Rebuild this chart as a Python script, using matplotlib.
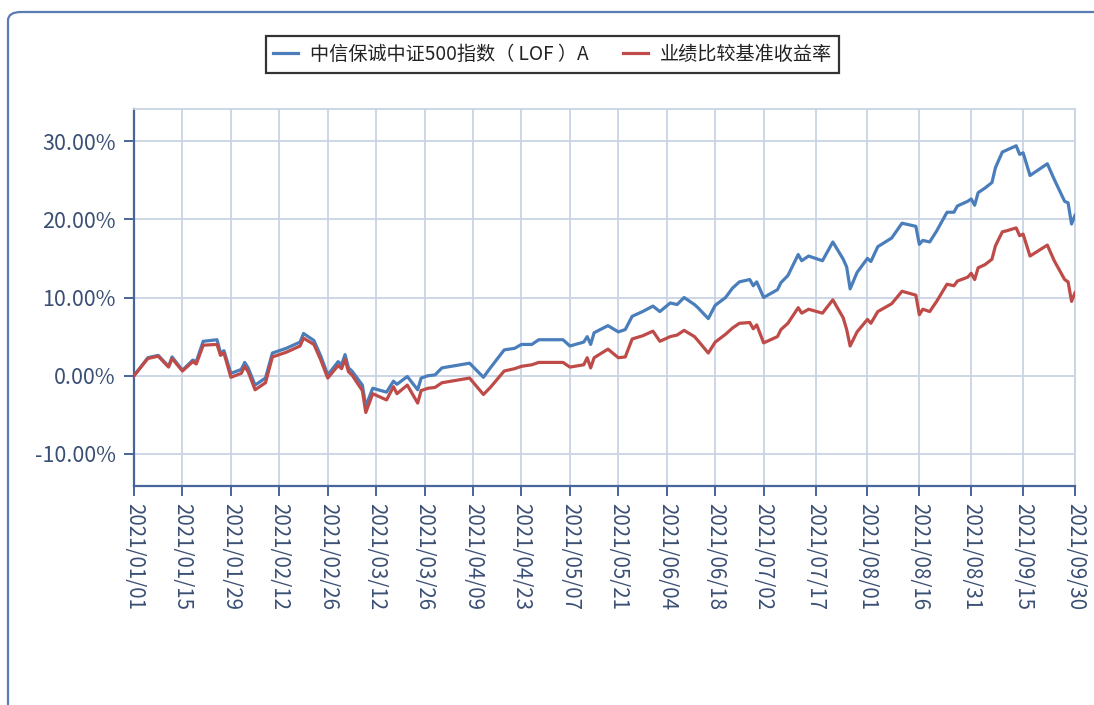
import numpy as np
import pandas as pd
import matplotlib
matplotlib.use("Agg")
import matplotlib.pyplot as plt
import matplotlib.dates as mdates
from matplotlib.patches import FancyBboxPatch

plt.rcParams['font.family'] = ['Noto Sans CJK SC', 'DejaVu Sans']

# values (cumulative return, %)
dates = ["01/01", "01/05", "01/08", "01/11", "01/12", "01/15", "01/18", "01/19", "01/21", "01/25",
         "01/26", "01/27", "01/29", "02/01", "02/02", "02/03", "02/05", "02/08", "02/10", "02/14",
         "02/18", "02/19", "02/22", "02/24", "02/26", "03/01", "03/02", "03/03", "03/04", "03/05",
         "03/08", "03/09", "03/11", "03/15", "03/17", "03/18", "03/21", "03/24", "03/25", "03/27",
         "03/29", "03/31", "04/08", "04/12", "04/14", "04/18", "04/21", "04/23", "04/26", "04/28",
         "05/05", "05/07", "05/11", "05/12", "05/13", "05/14", "05/18", "05/21", "05/23", "05/25",
         "05/28", "05/31", "06/02", "06/05", "06/07", "06/09", "06/12", "06/13", "06/16", "06/18",
         "06/21", "06/23", "06/25", "06/28", "06/29", "06/30", "07/02", "07/06", "07/07", "07/09",
         "07/12", "07/13", "07/15", "07/19", "07/22", "07/25", "07/26", "07/27", "07/29", "08/01",
         "08/02", "08/04", "08/08", "08/11", "08/15", "08/16", "08/17", "08/19", "08/21", "08/24",
         "08/26", "08/27", "08/30", "08/31", "09/01", "09/02", "09/04", "09/06", "09/07", "09/09",
         "09/10", "09/13", "09/14", "09/15", "09/17", "09/22", "09/24", "09/27", "09/28", "09/29",
         "09/30"]

fund = [0.0, 2.3, 2.6, 1.2, 2.4, 0.7, 2.0, 1.8, 4.4, 4.6,
        2.9, 3.2, 0.3, 0.8, 1.7, 1.0, -1.2, -0.3, 2.9, 3.5,
        4.3, 5.4, 4.5, 2.5, 0.1, 1.8, 1.4, 2.7, 1.0, 0.6,
        -1.2, -3.9, -1.6, -2.1, -0.7, -1.1, -0.1, -1.8, -0.3, 0.0,
        0.1, 1.0, 1.6, -0.2, 1.0, 3.3, 3.5, 4.0, 4.0, 4.6,
        4.6, 3.8, 4.3, 5.0, 4.0, 5.5, 6.4, 5.6, 5.9, 7.6,
        8.2, 8.9, 8.2, 9.3, 9.1, 10.0, 9.1, 8.7, 7.3, 9.0,
        10.0, 11.2, 12.0, 12.3, 11.5, 12.0, 10.0, 11.0, 11.9, 12.8,
        15.5, 14.7, 15.3, 14.7, 17.1, 14.9, 13.9, 11.1, 13.2, 15.0,
        14.6, 16.5, 17.6, 19.5, 19.1, 16.8, 17.3, 17.1, 18.5, 20.9,
        20.9, 21.7, 22.3, 22.6, 21.8, 23.4, 24.0, 24.7, 26.6, 28.6,
        28.8, 29.4, 28.3, 28.5, 25.6, 27.1, 25.1, 22.3, 22.1, 19.4,
        20.5]

bench = [0.0, 2.2, 2.5, 1.1, 2.2, 0.6, 1.8, 1.5, 3.9, 4.0,
         2.6, 2.9, -0.2, 0.3, 1.2, 0.5, -1.8, -0.9, 2.4, 3.0,
         3.8, 4.8, 4.0, 2.0, -0.3, 1.3, 0.9, 2.1, 0.5, 0.1,
         -1.9, -4.7, -2.3, -3.1, -1.4, -2.3, -1.2, -3.5, -1.9, -1.6,
         -1.5, -0.9, -0.3, -2.4, -1.5, 0.6, 0.9, 1.2, 1.4, 1.7,
         1.7, 1.1, 1.4, 2.3, 1.0, 2.3, 3.4, 2.3, 2.4, 4.7,
         5.1, 5.7, 4.4, 5.0, 5.2, 5.8, 5.0, 4.5, 2.9, 4.3,
         5.3, 6.1, 6.7, 6.8, 6.0, 6.5, 4.2, 5.0, 5.9, 6.7,
         8.7, 8.0, 8.5, 8.0, 9.7, 7.4, 5.9, 3.8, 5.6, 7.2,
         6.7, 8.2, 9.2, 10.8, 10.3, 7.8, 8.5, 8.2, 9.5, 11.7,
         11.5, 12.1, 12.6, 13.1, 12.3, 13.8, 14.2, 14.9, 16.6, 18.4,
         18.5, 18.9, 17.9, 18.1, 15.3, 16.7, 14.7, 12.3, 12.0, 9.5,
         10.6]

tick_dates = ["2021/01/01", "2021/01/15", "2021/01/29", "2021/02/12", "2021/02/26",
              "2021/03/12", "2021/03/26", "2021/04/09", "2021/04/23", "2021/05/07",
              "2021/05/21", "2021/06/04", "2021/06/18", "2021/07/02", "2021/07/17",
              "2021/08/01", "2021/08/16", "2021/08/31", "2021/09/15", "2021/09/30"]
y_ticks = [-10, 0, 10, 20, 30]

names = ["中信保诚中证500指数（ LOF ）A", "业绩比较基准收益率"]

x = pd.to_datetime(["2021/" + d for d in dates], format="%Y/%m/%d")
xt = pd.to_datetime(tick_dates, format="%Y/%m/%d")

axis_col = "#46659a"
grid_col = "#c9d3e3"
text_col = "#3a4f74"

fig = plt.figure(figsize=(10.94, 7.05), dpi=100)
ax = fig.add_axes([134 / 1094, 1 - 486 / 705, (1075 - 134) / 1094, (486 - 109) / 705])

ax.plot(x, fund, color="#4a7ebb", lw=2.3, label=names[0], zorder=3)
ax.plot(x, bench, color="#be4b48", lw=2.3, label=names[1], zorder=3)

ax.set_xlim(xt[0], xt[-1])
ax.set_ylim(-14.1, 34.1)
ax.set_xticks(xt)
ax.set_xticklabels(tick_dates, rotation=-90, fontsize=14.8, color=text_col)
ax.set_yticks(y_ticks)
ax.set_yticklabels(["%.2f%%" % v for v in y_ticks], fontsize=15.5, color=text_col)
ax.tick_params(axis="both", direction="out", length=7, width=1.4, color=axis_col)
ax.tick_params(axis="x", pad=5)
ax.tick_params(axis="y", pad=6)

ax.grid(True, color=grid_col, lw=1.3)
ax.set_axisbelow(True)
for s in ["left", "bottom"]:
    ax.spines[s].set_color(axis_col)
    ax.spines[s].set_linewidth(1.6)
for s in ["top", "right"]:
    ax.spines[s].set_color(grid_col)
    ax.spines[s].set_linewidth(1.3)

leg = fig.legend(loc="upper center", bbox_to_anchor=(0.505, 0.962), ncol=2, frameon=True,
                 fancybox=False, fontsize=13.8, handlelength=1.3, columnspacing=1.8,
                 handletextpad=0.6, borderpad=0.4, edgecolor="black")
leg.get_frame().set_linewidth(1.6)
for t in leg.get_texts():
    t.set_color("#222222")

# outer rounded border of the chart panel
border = FancyBboxPatch((8 / 1094, -0.2), 1.2, 1 - 12 / 705 + 0.2,
                        boxstyle="round,pad=0,rounding_size=0.012",
                        transform=fig.transFigure, fill=False, ec="#5b7bb3", lw=1.6)
fig.patches.append(border)

fig.savefig("out.png", dpi=100)
